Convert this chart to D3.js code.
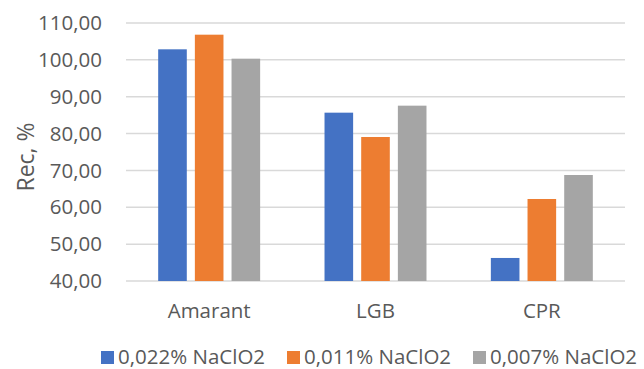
<!DOCTYPE html>
<html>
<head>
<meta charset="utf-8">
<script src="https://cdn.jsdelivr.net/npm/d3@7"></script>
<style>
  html, body { margin: 0; padding: 0; background: #fff; }
  svg { display: block; font-family: "Open Sans", "Segoe UI", sans-serif; }
</style>
</head>
<body>
<svg id="chart" width="644" height="369"></svg>
<script>
// Recovery (%) per sample and oxidant concentration
const categories = ["Amarant", "LGB", "CPR"];
const seriesNames = ["0,022% NaClO2", "0,011% NaClO2", "0,007% NaClO2"];
const seriesColors = ["#4472C4", "#ED7D31", "#A5A5A5"];
const values022 = [102.86, 85.67, 46.25];
const values011 = [106.83, 79.07, 62.25];
const values007 = [100.32, 87.57, 68.76];
const seriesValues = [values022, values011, values007];
const yTicks = [40, 50, 60, 70, 80, 90, 100, 110];

const svg = d3.select("#chart");
const margin = { left: 126, right: 19, top: 23, bottom: 88 };
const W = 644, H = 369;
const textColor = "#595959";
const fontSize = 20.5;

const y = d3.scaleLinear().domain([40, 110]).range([H - margin.bottom, margin.top]);
const x0 = d3.scaleBand().domain(categories)
  .range([margin.left, W - margin.right])
  .paddingInner(0.387).paddingOuter(0.1935);
const x1 = d3.scaleBand().domain(d3.range(seriesNames.length))
  .range([0, x0.bandwidth()]).paddingInner(0.22).paddingOuter(0);

// horizontal gridlines
svg.append("g")
  .selectAll("line").data(yTicks).join("line")
  .attr("x1", margin.left).attr("x2", W - margin.right)
  .attr("y1", d => y(d)).attr("y2", d => y(d))
  .attr("stroke", "#D9D9D9").attr("stroke-width", 1.5);

// y-axis tick labels
const fmt = d => d3.format(".2f")(d).replace(".", ",");
svg.append("g")
  .selectAll("text").data(yTicks).join("text")
  .attr("x", 102).attr("y", d => y(d)).attr("dy", "0.35em")
  .attr("text-anchor", "end")
  .attr("fill", textColor).attr("font-size", fontSize)
  .text(fmt);

// grouped bars
const groups = svg.append("g").selectAll("g").data(categories).join("g")
  .attr("transform", c => `translate(${x0(c)},0)`);
groups.selectAll("rect")
  .data((c, ci) => seriesValues.map((vals, si) => ({ si, v: vals[ci] })))
  .join("rect")
  .attr("x", d => x1(d.si))
  .attr("width", x1.bandwidth())
  .attr("y", d => y(d.v))
  .attr("height", d => y(40) - y(d.v))
  .attr("fill", d => seriesColors[d.si]);

// category labels
svg.append("g").selectAll("text").data(categories).join("text")
  .attr("x", c => x0(c) + x0.bandwidth() / 2)
  .attr("y", 318)
  .attr("text-anchor", "middle")
  .attr("fill", textColor).attr("font-size", fontSize)
  .text(c => c);

// y-axis title
svg.append("text")
  .attr("transform", "translate(34,157) rotate(-90)")
  .attr("text-anchor", "middle")
  .attr("fill", textColor).attr("font-size", 23)
  .text("Rec, %");

// legend
const legendX = [101, 287, 473];
const legend = svg.append("g").selectAll("g").data(seriesNames).join("g")
  .attr("transform", (d, i) => `translate(${legendX[i]},0)`);
legend.append("rect")
  .attr("x", 0).attr("y", 351).attr("width", 13).attr("height", 13)
  .attr("fill", (d, i) => seriesColors[i]);
legend.append("text")
  .attr("x", 17).attr("y", 364)
  .attr("fill", textColor).attr("font-size", fontSize)
  .text(d => d);
</script>
</body>
</html>
